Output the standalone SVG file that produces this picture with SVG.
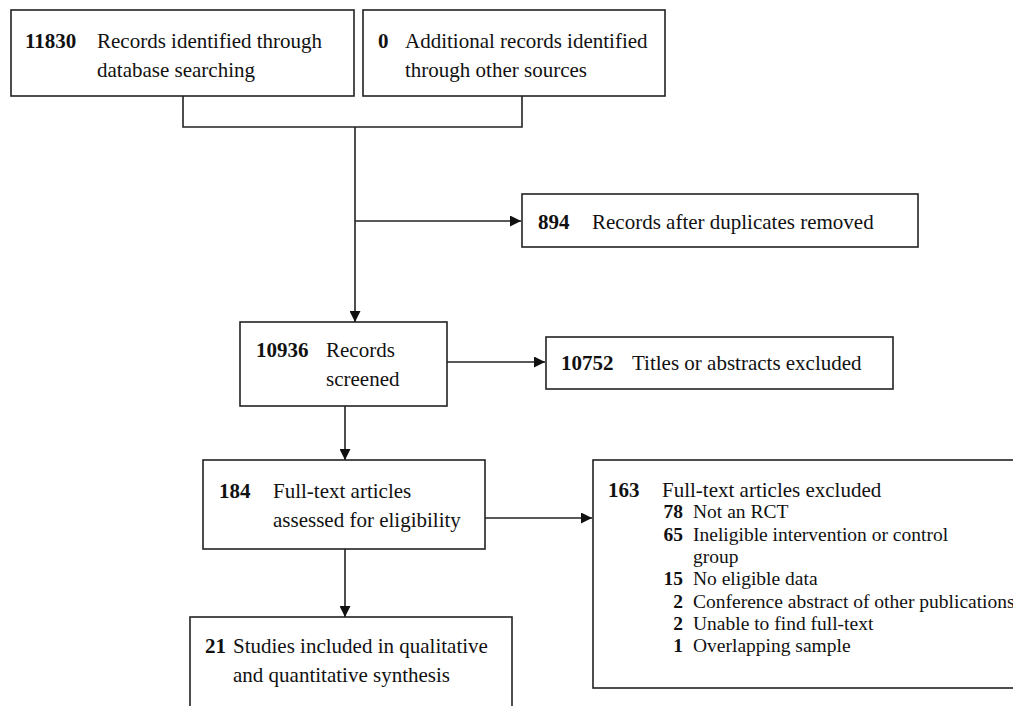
<svg xmlns="http://www.w3.org/2000/svg" width="1013" height="706" viewBox="0 0 1013 706">
<defs>
<style>
.box{fill:#fff;stroke:#222;stroke-width:1.6}
.t{font-family:"Liberation Serif","Times New Roman",serif;font-size:21px;fill:#111}
.b{font-weight:bold}
.s{font-family:"Liberation Serif","Times New Roman",serif;font-size:19.5px;fill:#111}
.c{fill:none;stroke:#222;stroke-width:1.6}
</style>
<marker id="ah" viewBox="0 0 10 10" refX="10" refY="5" markerWidth="11" markerHeight="11" markerUnits="userSpaceOnUse" orient="auto">
<path d="M0,0 L10,5 L0,10 z" fill="#111"/>
</marker>
</defs>
<rect width="1013" height="706" fill="#fff"/>
<g id="connectors">
<path class="c" d="M183,96 V127 H522 V96"/>
<path class="c" d="M355,127 V322" marker-end="url(#ah)"/>
<path class="c" d="M355,221 H521" marker-end="url(#ah)"/>
<path class="c" d="M447,362 H545" marker-end="url(#ah)"/>
<path class="c" d="M345,406 V460" marker-end="url(#ah)"/>
<path class="c" d="M485,518 H592" marker-end="url(#ah)"/>
<path class="c" d="M345,549 V617" marker-end="url(#ah)"/>
</g>
<g id="n1">
<rect class="box" x="11" y="10" width="343" height="86"/>
<text class="t b" x="25" y="48">11830</text>
<text class="t" x="97" y="48">Records identified through</text>
<text class="t" x="97" y="77">database searching</text>
</g>
<g id="n2">
<rect class="box" x="363" y="10" width="302" height="86"/>
<text class="t b" x="378" y="48">0</text>
<text class="t" x="405" y="48">Additional records identified</text>
<text class="t" x="405" y="77">through other sources</text>
</g>
<g id="n3">
<rect class="box" x="522" y="194" width="396" height="53"/>
<text class="t b" x="538" y="229">894</text>
<text class="t" x="592" y="229">Records after duplicates removed</text>
</g>
<g id="n4">
<rect class="box" x="240" y="322" width="207" height="84"/>
<text class="t b" x="256" y="357">10936</text>
<text class="t" x="326" y="357">Records</text>
<text class="t" x="326" y="386">screened</text>
</g>
<g id="n5">
<rect class="box" x="546" y="337" width="347" height="52"/>
<text class="t b" x="561" y="370">10752</text>
<text class="t" x="632" y="370">Titles or abstracts excluded</text>
</g>
<g id="n6">
<rect class="box" x="203" y="460" width="282" height="89"/>
<text class="t b" x="219" y="498">184</text>
<text class="t" x="273" y="498">Full-text articles</text>
<text class="t" x="273" y="527">assessed for eligibility</text>
</g>
<g id="n7">
<rect class="box" x="593" y="460" width="430" height="228"/>
<text class="t b" x="608" y="497">163</text>
<text class="t" x="662" y="497">Full-text articles excluded</text>
<text class="s b" x="683" y="518" text-anchor="end">78</text>
<text class="s" x="693" y="518">Not an RCT</text>
<text class="s b" x="683" y="540.5" text-anchor="end">65</text>
<text class="s" x="693" y="540.5">Ineligible intervention or control</text>
<text class="s" x="693" y="563">group</text>
<text class="s b" x="683" y="585" text-anchor="end">15</text>
<text class="s" x="693" y="585">No eligible data</text>
<text class="s b" x="683" y="607.5" text-anchor="end">2</text>
<text class="s" x="693" y="607.5">Conference abstract of other publications</text>
<text class="s b" x="683" y="630" text-anchor="end">2</text>
<text class="s" x="693" y="630">Unable to find full-text</text>
<text class="s b" x="683" y="652" text-anchor="end">1</text>
<text class="s" x="693" y="652">Overlapping sample</text>
</g>
<g id="n8">
<rect class="box" x="190" y="617" width="322" height="100"/>
<text class="t b" x="205" y="653">21</text>
<text class="t" x="233" y="653">Studies included in qualitative</text>
<text class="t" x="233" y="682">and quantitative synthesis</text>
</g>
</svg>
